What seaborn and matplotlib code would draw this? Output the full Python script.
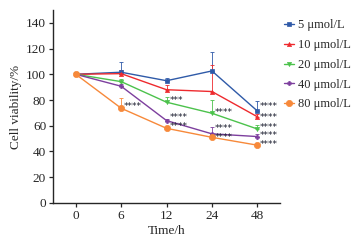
import numpy as np
import pandas as pd
import matplotlib
matplotlib.use('Agg')
import matplotlib.pyplot as plt
import seaborn as sns

sns.set_style('ticks')
plt.rcParams['font.family'] = ['Liberation Serif', 'DejaVu Serif']

# 数据
time_labels = ['0', '6', '12', '24', '48']
groups = ['5 μmol/L', '10 μmol/L', '20 μmol/L', '40 μmol/L', '80 μmol/L']
v5 = [100, 101.6, 95, 102.6, 71.5]
v10 = [100, 100.5, 88, 86.6, 67]
v20 = [100, 94.3, 78.3, 69.7, 57.5]
v40 = [100, 90.7, 64, 53.7, 51.6]
v80 = [100, 73.6, 58, 51, 44.9]
e5 = [1.5, 8, 2, 15, 8]
e10 = [1.5, 3, 4, 21, 2]
e20 = [1, 2, 4, 10, 3]
e40 = [1, 1.5, 1.5, 5, 2]
e80 = [1.5, 8, 1.5, 1.5, 1.5]
# 显著性标记
sig5 = ['', '', '', '', '****']
sig10 = ['', '', '', '', '****']
sig20 = ['', '', '***', '****', '****']
sig40 = ['', '', '****', '****', '****']
sig80 = ['', '****', '****', '****', '****']

vals = [v5, v10, v20, v40, v80]
errs = [e5, e10, e20, e40, e80]
sigs = [sig5, sig10, sig20, sig40, sig80]
colors = ['#2f5aa8', '#ee2a2e', '#4cc24c', '#7d3f9e', '#f7893a']
markers = ['s', '^', 'v', 'P', 'o']
msizes = [2.8, 3, 3, 3, 4.5]
# 星号的竖直微调（points），避免重叠
nudge = {(0, 4): 3.0, (1, 4): -0.5, (2, 3): 0.3, (3, 2): 2.0, (3, 3): 4.0,
         (4, 3): -0.3, (3, 4): 0.5, (4, 4): 0.2}

rows = []
for g, v in zip(groups, vals):
    for i, t in enumerate(time_labels):
        rows.append({'pos': i, 'Time': t, 'group': g, 'value': v[i]})
df = pd.DataFrame(rows)

fig = plt.figure(figsize=(3.54, 2.49), dpi=100)
ax = fig.add_axes([0.150, 0.185, 0.641, 0.775])

for k, (g, c, m, ms, e, s) in enumerate(zip(groups, colors, markers, msizes, errs, sigs)):
    sub = df[df['group'] == g]
    ax.errorbar(sub['pos'], sub['value'], yerr=[np.zeros(len(e)), e],
                fmt='none', ecolor=c, elinewidth=0.6, capsize=1.2, capthick=0.6, zorder=2)
    sns.lineplot(data=sub, x='pos', y='value', color=c, marker=m, markersize=ms,
                 markeredgecolor=c, markeredgewidth=0.5, linewidth=1.0, label=g, ax=ax, zorder=3)
    for p, y, txt in zip(sub['pos'], sub['value'], s):
        if txt:
            dy = nudge.get((k, p), 1.0)
            ax.annotate(txt, (p, y), xytext=(2, dy), textcoords='offset points',
                        fontsize=6.5, color='#1a1d2e', ha='left', va='center',
                        family='DejaVu Sans', zorder=4)

ax.set_xlim(-0.5, 4.5)
ax.set_ylim(0, 150)
ax.set_xticks(range(len(time_labels)))
ax.set_xticklabels(time_labels)
ax.set_yticks(np.arange(0, 141, 20))
ax.tick_params(labelsize=9.5, length=3, width=0.9, pad=2)
ax.set_xlabel('Time/h', fontsize=9.5, labelpad=2)
ax.set_ylabel('Cell viability/%', fontsize=9.5, labelpad=3)
sns.despine(ax=ax)
for sp in ['left', 'bottom']:
    ax.spines[sp].set_linewidth(1.0)

ax.legend(loc='upper left', bbox_to_anchor=(0.985, 0.99), frameon=False, fontsize=9,
          handlelength=0.8, handletextpad=0.3, labelspacing=0.62, borderaxespad=0.2)

fig.savefig('out.png', dpi=100)
